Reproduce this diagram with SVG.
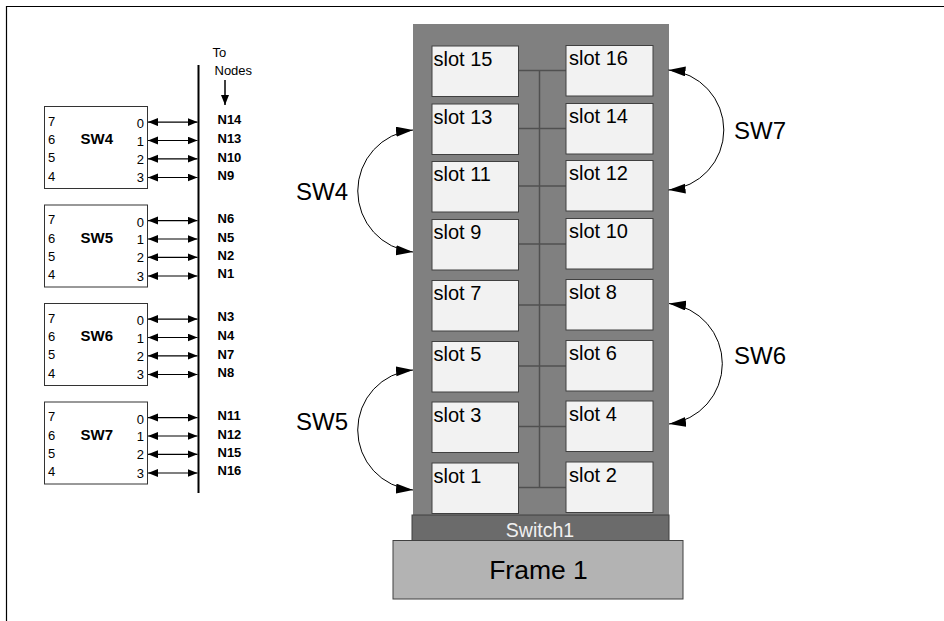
<svg xmlns="http://www.w3.org/2000/svg" width="944" height="621" viewBox="0 0 944 621">
<defs>
<marker id="sa" markerUnits="userSpaceOnUse" markerWidth="11" markerHeight="9" refX="10" refY="4" orient="auto-start-reverse"><path d="M0,0 L10,4 L0,8 z" fill="#000"/></marker>
<marker id="ba" markerUnits="userSpaceOnUse" markerWidth="18" markerHeight="11" refX="17" refY="5" orient="auto-start-reverse"><path d="M0,0 L17,5 L0,10 z" fill="#000"/></marker>
<style>
text{font-family:"Liberation Sans",Arial,sans-serif;fill:#000}
.sw{fill:#fff;stroke:#333;stroke-width:1}
.d{font-size:13px}
.pn{font-size:13px;text-anchor:end}
.n{font-size:13px;font-weight:bold}
.swl{font-size:15px;font-weight:bold}
.la{stroke:#000;stroke-width:1.2;marker-start:url(#sa);marker-end:url(#sa)}
.slot{fill:#f2f2f2;stroke:#404040;stroke-width:1}
.st{font-size:20px}
.bus{stroke:#505050;stroke-width:1.5;fill:none}
.arc{fill:none;stroke:#000;stroke-width:1;marker-start:url(#ba);marker-end:url(#ba)}
.big{font-size:24px}
</style>
</defs>
<rect width="944" height="621" fill="#fff"/>
<path d="M6.5,621 V6.5 H944" fill="none" stroke="#000" stroke-width="1.2"/>

<!-- To Nodes bus -->
<g id="tonodes">
<line x1="198.5" y1="65" x2="198.5" y2="493" stroke="#000" stroke-width="2"/>
<text x="212.5" y="57" style="font-size:13px">To</text>
<text x="214.5" y="75" style="font-size:13px">Nodes</text>
<line x1="225" y1="80" x2="225" y2="105" stroke="#000" stroke-width="1.5" marker-end="url(#sa)"/>
</g>

<g id="sw4box" transform="translate(0,106.5)">
<rect class="sw" x="44.5" y="0" width="103" height="82"/>
<text class="d" x="48" y="19">7</text><text class="d" x="48" y="37.6">6</text><text class="d" x="48" y="55.6">5</text><text class="d" x="48" y="74">4</text>
<text class="swl" x="80.5" y="37.6">SW4</text>
<text class="pn" x="144" y="21.6">0</text><text class="pn" x="144" y="39">1</text><text class="pn" x="144" y="57.3">2</text><text class="pn" x="144" y="75.6">3</text>
<line class="la" x1="148" y1="15.6" x2="197.5" y2="15.6"/><line class="la" x1="148" y1="34" x2="197.5" y2="34"/><line class="la" x1="148" y1="52.3" x2="197.5" y2="52.3"/><line class="la" x1="148" y1="71" x2="197.5" y2="71"/>
<text class="n" x="217.5" y="17.6">N14</text><text class="n" x="217.5" y="36.6">N13</text><text class="n" x="217.5" y="55">N10</text><text class="n" x="217.5" y="73.3">N9</text>
</g>

<g id="sw5box" transform="translate(0,205)">
<rect class="sw" x="44.5" y="0" width="103" height="82"/>
<text class="d" x="48" y="19">7</text><text class="d" x="48" y="37.6">6</text><text class="d" x="48" y="55.6">5</text><text class="d" x="48" y="74">4</text>
<text class="swl" x="80.5" y="37.6">SW5</text>
<text class="pn" x="144" y="21.6">0</text><text class="pn" x="144" y="39">1</text><text class="pn" x="144" y="57.3">2</text><text class="pn" x="144" y="75.6">3</text>
<line class="la" x1="148" y1="15.6" x2="197.5" y2="15.6"/><line class="la" x1="148" y1="34" x2="197.5" y2="34"/><line class="la" x1="148" y1="52.3" x2="197.5" y2="52.3"/><line class="la" x1="148" y1="71" x2="197.5" y2="71"/>
<text class="n" x="217.5" y="17.6">N6</text><text class="n" x="217.5" y="36.6">N5</text><text class="n" x="217.5" y="55">N2</text><text class="n" x="217.5" y="73.3">N1</text>
</g>

<g id="sw6box" transform="translate(0,303.5)">
<rect class="sw" x="44.5" y="0" width="103" height="82"/>
<text class="d" x="48" y="19">7</text><text class="d" x="48" y="37.6">6</text><text class="d" x="48" y="55.6">5</text><text class="d" x="48" y="74">4</text>
<text class="swl" x="80.5" y="37.6">SW6</text>
<text class="pn" x="144" y="21.6">0</text><text class="pn" x="144" y="39">1</text><text class="pn" x="144" y="57.3">2</text><text class="pn" x="144" y="75.6">3</text>
<line class="la" x1="148" y1="15.6" x2="197.5" y2="15.6"/><line class="la" x1="148" y1="34" x2="197.5" y2="34"/><line class="la" x1="148" y1="52.3" x2="197.5" y2="52.3"/><line class="la" x1="148" y1="71" x2="197.5" y2="71"/>
<text class="n" x="217.5" y="17.6">N3</text><text class="n" x="217.5" y="36.6">N4</text><text class="n" x="217.5" y="55">N7</text><text class="n" x="217.5" y="73.3">N8</text>
</g>

<g id="sw7box" transform="translate(0,402)">
<rect class="sw" x="44.5" y="0" width="103" height="82"/>
<text class="d" x="48" y="19">7</text><text class="d" x="48" y="37.6">6</text><text class="d" x="48" y="55.6">5</text><text class="d" x="48" y="74">4</text>
<text class="swl" x="80.5" y="37.6">SW7</text>
<text class="pn" x="144" y="21.6">0</text><text class="pn" x="144" y="39">1</text><text class="pn" x="144" y="57.3">2</text><text class="pn" x="144" y="75.6">3</text>
<line class="la" x1="148" y1="15.6" x2="197.5" y2="15.6"/><line class="la" x1="148" y1="34" x2="197.5" y2="34"/><line class="la" x1="148" y1="52.3" x2="197.5" y2="52.3"/><line class="la" x1="148" y1="71" x2="197.5" y2="71"/>
<text class="n" x="217.5" y="17.6">N11</text><text class="n" x="217.5" y="36.6">N12</text><text class="n" x="217.5" y="55">N15</text><text class="n" x="217.5" y="73.3">N16</text>
</g>

<!-- Frame -->
<g id="frame">
<rect x="413" y="24" width="256" height="491" fill="#808080"/>
</g>

<g id="bus">
<path class="bus" d="M539.5,70.5 V487.5 M518.5,70.5 H566 M518.5,128.5 H566 M518.5,186 H566 M518.5,244 H566 M518.5,305 H566 M518.5,366 H566 M518.5,426.5 H566 M518.5,487.5 H566"/>
</g>

<g id="slot15"><rect class="slot" x="432" y="46" width="86.5" height="50.5"/><text class="st" x="433.5" y="65.7">slot 15</text></g>
<g id="slot16"><rect class="slot" x="566" y="45.5" width="87" height="50.5"/><text class="st" x="569" y="65.3">slot 16</text></g>
<g id="slot13"><rect class="slot" x="432" y="104" width="86.5" height="50.5"/><text class="st" x="433.5" y="123.7">slot 13</text></g>
<g id="slot14"><rect class="slot" x="566" y="103.5" width="87" height="50.5"/><text class="st" x="569" y="123.3">slot 14</text></g>
<g id="slot11"><rect class="slot" x="432" y="161.5" width="86.5" height="50.5"/><text class="st" x="433.5" y="181.2">slot 11</text></g>
<g id="slot12"><rect class="slot" x="566" y="160.5" width="87" height="50.5"/><text class="st" x="569" y="180.3">slot 12</text></g>
<g id="slot9"><rect class="slot" x="432" y="219.5" width="86.5" height="50.5"/><text class="st" x="433.5" y="239.2">slot 9</text></g>
<g id="slot10"><rect class="slot" x="566" y="218.5" width="87" height="50.5"/><text class="st" x="569" y="238.3">slot 10</text></g>
<g id="slot7"><rect class="slot" x="432" y="280.5" width="86.5" height="50.5"/><text class="st" x="433.5" y="300.2">slot 7</text></g>
<g id="slot8"><rect class="slot" x="566" y="279.5" width="87" height="50.5"/><text class="st" x="569" y="299.3">slot 8</text></g>
<g id="slot5"><rect class="slot" x="432" y="341.5" width="86.5" height="50.5"/><text class="st" x="433.5" y="361.2">slot 5</text></g>
<g id="slot6"><rect class="slot" x="566" y="340.5" width="87" height="50.5"/><text class="st" x="569" y="360.3">slot 6</text></g>
<g id="slot3"><rect class="slot" x="432" y="402" width="86.5" height="50.5"/><text class="st" x="433.5" y="421.7">slot 3</text></g>
<g id="slot4"><rect class="slot" x="566" y="401" width="87" height="50.5"/><text class="st" x="569" y="420.8">slot 4</text></g>
<g id="slot1"><rect class="slot" x="432" y="463" width="86.5" height="50.5"/><text class="st" x="433.5" y="482.7">slot 1</text></g>
<g id="slot2"><rect class="slot" x="566" y="462" width="87" height="50.5"/><text class="st" x="569" y="481.8">slot 2</text></g>

<g id="switch1"><rect x="412" y="515" width="257" height="25.5" fill="#6b6b6b" stroke="#404040" stroke-width="1"/><text x="540" y="536.5" text-anchor="middle" style="font-size:19.5px;fill:#f0f0f0">Switch1</text></g>
<g id="frame1"><rect x="393" y="540.5" width="290" height="58.5" fill="#b3b3b3" stroke="#404040" stroke-width="1"/><text x="538.5" y="578.5" text-anchor="middle" style="font-size:26.5px">Frame 1</text></g>

<g id="connectors">
<path class="arc" d="M413,130 A61.3,61.3 0 0 0 413,252"/>
<path class="arc" d="M413,370 A60.2,60.2 0 0 0 413,490"/>
<path class="arc" d="M668.5,70 A60.2,60.2 0 0 1 668.5,190"/>
<path class="arc" d="M669,303.5 A60.7,60.7 0 0 1 669,424"/>
</g>
<g id="labels">
<text class="big" x="296" y="200">SW4</text>
<text class="big" x="296" y="430">SW5</text>
<text class="big" x="734" y="138.5">SW7</text>
<text class="big" x="734" y="363.5">SW6</text>
</g>
</svg>
